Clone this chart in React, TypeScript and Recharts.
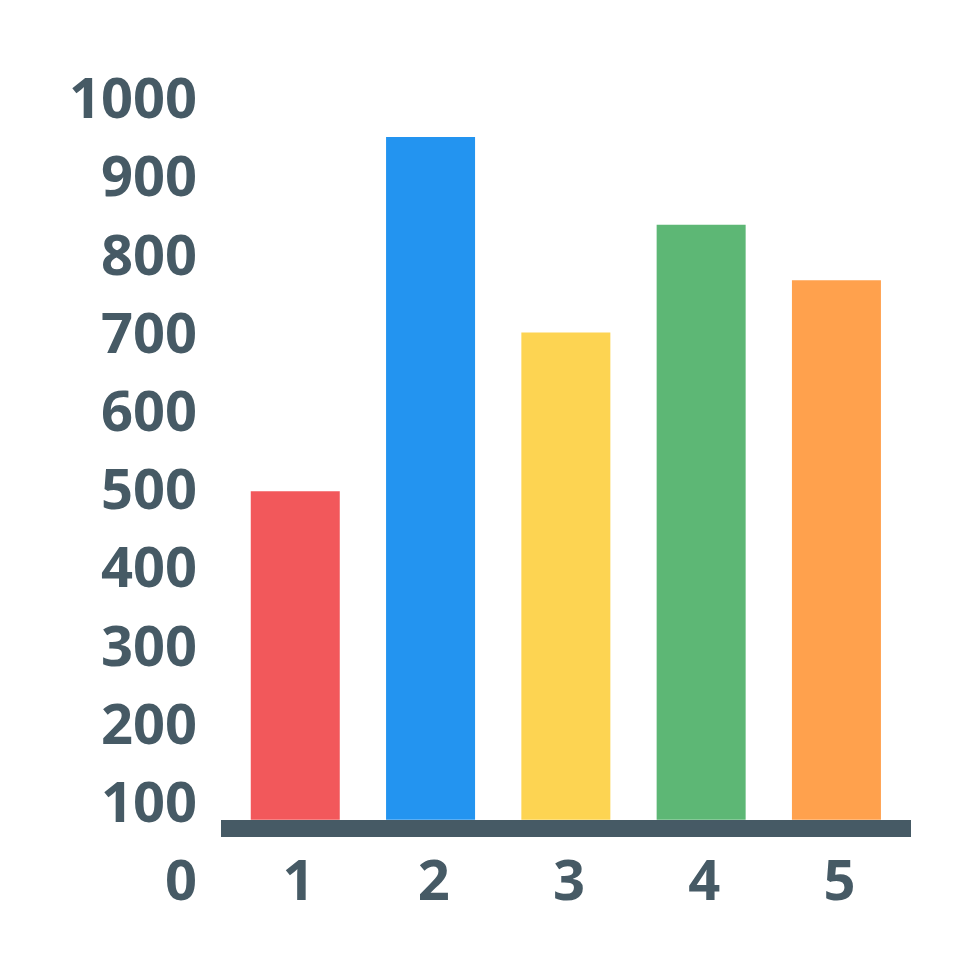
import React from "react";
import { BarChart, Bar, XAxis, YAxis, ReferenceLine, Cell } from "recharts";

const categories = [1, 2, 3, 4, 5];
const values = [497, 950, 700, 838, 767];
const yTicks = [0, 100, 200, 300, 400, 500, 600, 700, 800, 900, 1000];
const COLORS = ["#F2585B", "#2394F0", "#FDD452", "#5DB775", "#FFA14D"];
const BASE = 77; // bars stand on the thick axis line
const AXIS_LINE = 66;

const INK = "#465A65";
const FONT = "'Open Sans', Roboto, sans-serif";

const data = categories.map((c, i) => ({ cat: c, range: [BASE, values[i]] }));

const YTick = (props: any) => {
    const { x, y, payload } = props;
    return (
        <text x={x} y={y} dy="0.36em" textAnchor="end" fill={INK}
            fontFamily={FONT} fontWeight={700} fontSize={56}>
            {payload.value}
        </text>
    );
};

const XTick = (props: any) => {
    const { x, y, payload } = props;
    return (
        <text x={x} y={y} dx={3} dy="0.36em" textAnchor="middle" fill={INK}
            fontFamily={FONT} fontWeight={700} fontSize={56}>
            {payload.value}
        </text>
    );
};

export default function App() {
    return (
        <div style={{ position: "absolute", left: 0, top: 0, background: "#fff" }}>
            <BarChart
                width={980}
                height={980}
                data={data}
                margin={{ top: 98, right: 69, left: 0, bottom: 99 }}
            >
                <XAxis
                    dataKey="cat"
                    type="number"
                    domain={[0.45, 5.55]}
                    ticks={categories}
                    axisLine={false}
                    tickLine={false}
                    tickSize={0}
                    tickMargin={0}
                    height={1}
                    tick={<XTick />}
                />
                <YAxis
                    type="number"
                    domain={[0, 1000]}
                    ticks={yTicks}
                    interval={0}
                    width={221}
                    axisLine={false}
                    tickLine={false}
                    tickSize={0}
                    tickMargin={24}
                    tick={<YTick />}
                />
                <Bar dataKey="range" barSize={89} isAnimationActive={false}>
                    {data.map((d, i) => (
                        <Cell key={d.cat} fill={COLORS[i]} />
                    ))}
                </Bar>
                <ReferenceLine y={AXIS_LINE} stroke={INK} strokeWidth={17} />
            </BarChart>
        </div>
    );
}
